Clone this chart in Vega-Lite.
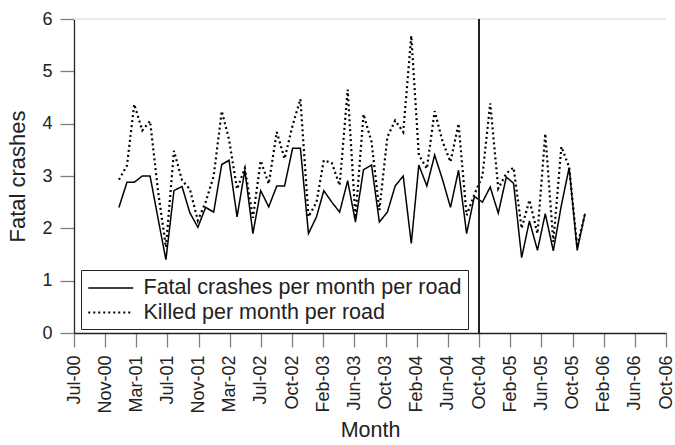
{
  "$schema": "https://vega.github.io/schema/vega-lite/v6.json",
  "width": 592,
  "height": 314,
  "autosize": "none",
  "padding": {"left": 74, "top": 19, "right": 9, "bottom": 112},
  "background": "white",
  "config": {"view": {"stroke": null}, "font": "Liberation Sans"},
  "data": {
    "values": [
      {"month": "2001-01-01", "crashes": 2.40, "killed": 2.93},
      {"month": "2001-02-01", "crashes": 2.88, "killed": 3.20},
      {"month": "2001-03-01", "crashes": 2.88, "killed": 4.37},
      {"month": "2001-04-01", "crashes": 3.00, "killed": 3.87},
      {"month": "2001-05-01", "crashes": 3.00, "killed": 4.05},
      {"month": "2001-06-01", "crashes": 2.18, "killed": 2.70},
      {"month": "2001-07-01", "crashes": 1.40, "killed": 1.64},
      {"month": "2001-08-01", "crashes": 2.72, "killed": 3.48},
      {"month": "2001-09-01", "crashes": 2.80, "killed": 2.92},
      {"month": "2001-10-01", "crashes": 2.30, "killed": 2.75},
      {"month": "2001-11-01", "crashes": 2.02, "killed": 2.15},
      {"month": "2001-12-01", "crashes": 2.40, "killed": 2.50},
      {"month": "2002-01-01", "crashes": 2.31, "killed": 3.00},
      {"month": "2002-02-01", "crashes": 3.22, "killed": 4.24},
      {"month": "2002-03-01", "crashes": 3.30, "killed": 3.70},
      {"month": "2002-04-01", "crashes": 2.22, "killed": 2.75},
      {"month": "2002-05-01", "crashes": 3.11, "killed": 3.15},
      {"month": "2002-06-01", "crashes": 1.90, "killed": 2.20},
      {"month": "2002-07-01", "crashes": 2.72, "killed": 3.29},
      {"month": "2002-08-01", "crashes": 2.41, "killed": 2.85},
      {"month": "2002-09-01", "crashes": 2.81, "killed": 3.84},
      {"month": "2002-10-01", "crashes": 2.81, "killed": 3.33},
      {"month": "2002-11-01", "crashes": 3.53, "killed": 3.97},
      {"month": "2002-12-01", "crashes": 3.53, "killed": 4.47},
      {"month": "2003-01-01", "crashes": 1.90, "killed": 2.22},
      {"month": "2003-02-01", "crashes": 2.22, "killed": 2.50},
      {"month": "2003-03-01", "crashes": 2.72, "killed": 3.30},
      {"month": "2003-04-01", "crashes": 2.50, "killed": 3.25},
      {"month": "2003-05-01", "crashes": 2.31, "killed": 2.82},
      {"month": "2003-06-01", "crashes": 2.91, "killed": 4.65},
      {"month": "2003-07-01", "crashes": 2.12, "killed": 2.20},
      {"month": "2003-08-01", "crashes": 3.12, "killed": 4.18},
      {"month": "2003-09-01", "crashes": 3.21, "killed": 3.65},
      {"month": "2003-10-01", "crashes": 2.12, "killed": 2.35},
      {"month": "2003-11-01", "crashes": 2.31, "killed": 3.75},
      {"month": "2003-12-01", "crashes": 2.81, "killed": 4.06},
      {"month": "2004-01-01", "crashes": 3.00, "killed": 3.84},
      {"month": "2004-02-01", "crashes": 1.71, "killed": 5.68},
      {"month": "2004-03-01", "crashes": 3.21, "killed": 3.40},
      {"month": "2004-04-01", "crashes": 2.81, "killed": 3.14},
      {"month": "2004-05-01", "crashes": 3.40, "killed": 4.24},
      {"month": "2004-06-01", "crashes": 2.92, "killed": 3.65},
      {"month": "2004-07-01", "crashes": 2.40, "killed": 3.27},
      {"month": "2004-08-01", "crashes": 3.11, "killed": 4.00},
      {"month": "2004-09-01", "crashes": 1.90, "killed": 2.25},
      {"month": "2004-10-01", "crashes": 2.61, "killed": 2.65},
      {"month": "2004-11-01", "crashes": 2.50, "killed": 3.00},
      {"month": "2004-12-01", "crashes": 2.79, "killed": 4.39},
      {"month": "2005-01-01", "crashes": 2.29, "killed": 2.76},
      {"month": "2005-02-01", "crashes": 2.98, "killed": 3.05},
      {"month": "2005-03-01", "crashes": 2.86, "killed": 3.16},
      {"month": "2005-04-01", "crashes": 1.44, "killed": 2.00},
      {"month": "2005-05-01", "crashes": 2.14, "killed": 2.54},
      {"month": "2005-06-01", "crashes": 1.58, "killed": 1.90},
      {"month": "2005-07-01", "crashes": 2.28, "killed": 3.81},
      {"month": "2005-08-01", "crashes": 1.57, "killed": 1.74},
      {"month": "2005-09-01", "crashes": 2.44, "killed": 3.56},
      {"month": "2005-10-01", "crashes": 3.16, "killed": 3.17},
      {"month": "2005-11-01", "crashes": 1.58, "killed": 1.65},
      {"month": "2005-12-01", "crashes": 2.28, "killed": 2.28}
    ]
  },
  "layer": [
    {
      "transform": [{"fold": ["crashes", "killed"], "as": ["series", "value"]}],
      "mark": {"type": "line", "color": "black", "strokeCap": "butt"},
      "encoding": {
        "x": {
          "field": "month",
          "type": "temporal",
          "scale": {
            "type": "utc",
            "domain": [
              {"year": 2000, "month": 7, "date": 12, "utc": true},
              {"year": 2006, "month": 10, "date": 9, "utc": true}
            ]
          },
          "axis": {
            "title": "Month",
            "titleFont": "Liberation Sans",
            "titleFontSize": 21.5,
            "titleFontWeight": "normal",
            "titleColor": "#222222",
            "titlePadding": 6,
            "tickCount": 40,
            "values": [
              {"year": 2000, "month": 7, "date": 12, "utc": true},
              {"year": 2000, "month": 11, "date": 9, "utc": true},
              {"year": 2001, "month": 3, "date": 9, "utc": true},
              {"year": 2001, "month": 7, "date": 7, "utc": true},
              {"year": 2001, "month": 11, "date": 4, "utc": true},
              {"year": 2002, "month": 3, "date": 4, "utc": true},
              {"year": 2002, "month": 7, "date": 2, "utc": true},
              {"year": 2002, "month": 10, "date": 30, "utc": true},
              {"year": 2003, "month": 2, "date": 27, "utc": true},
              {"year": 2003, "month": 6, "date": 27, "utc": true},
              {"year": 2003, "month": 10, "date": 25, "utc": true},
              {"year": 2004, "month": 2, "date": 22, "utc": true},
              {"year": 2004, "month": 6, "date": 21, "utc": true},
              {"year": 2004, "month": 10, "date": 19, "utc": true},
              {"year": 2005, "month": 2, "date": 16, "utc": true},
              {"year": 2005, "month": 6, "date": 16, "utc": true},
              {"year": 2005, "month": 10, "date": 14, "utc": true},
              {"year": 2006, "month": 2, "date": 11, "utc": true},
              {"year": 2006, "month": 6, "date": 11, "utc": true},
              {"year": 2006, "month": 10, "date": 9, "utc": true}
            ],
            "format": "%b-%y",
            "labelAngle": 270,
            "labelFont": "Liberation Sans",
            "labelFontSize": 18,
            "labelColor": "#222222",
            "labelPadding": 8,
            "labelOverlap": false,
            "labelFlush": false,
            "tickSize": 14,
            "tickColor": "#808080",
            "tickWidth": 1.3,
            "domainColor": "#222222",
            "domainWidth": 1.3,
            "grid": false
          }
        },
        "y": {
          "field": "value",
          "type": "quantitative",
          "scale": {"domain": [0, 6], "nice": false},
          "axis": {
            "title": "Fatal crashes",
            "titleFont": "Liberation Sans",
            "titleFontSize": 22,
            "titleFontWeight": "normal",
            "titleColor": "#222222",
            "titlePadding": 12,
            "values": [0, 1, 2, 3, 4, 5, 6],
            "labelFont": "Liberation Sans",
            "labelFontSize": 18,
            "labelColor": "#222222",
            "labelPadding": 8,
            "tickSize": 14,
            "tickColor": "#808080",
            "tickWidth": 1.3,
            "domainColor": "#222222",
            "domainWidth": 1.3,
            "grid": false
          }
        },
        "strokeDash": {
          "field": "series",
          "type": "nominal",
          "scale": {"domain": ["crashes", "killed"], "range": [[1, 0], [2, 3]]},
          "legend": {
            "orient": "none",
            "legendX": 7,
            "legendY": 251,
            "title": null,
            "labelExpr": "datum.label == 'crashes' ? 'Fatal crashes per month per road' : 'Killed per month per road'",
            "labelFont": "Liberation Sans",
            "labelFontSize": 21.5,
            "labelColor": "#222222",
            "labelLimit": 0,
            "labelOffset": 31.5,
            "symbolType": "M-1,0H3",
            "symbolSize": 506,
            "symbolStrokeWidth": 1.8,
            "symbolStrokeColor": "black",
            "symbolFillColor": "transparent",
            "strokeColor": "#222222",
            "fillColor": "white",
            "padding": 6,
            "rowPadding": 1
          }
        },
        "strokeWidth": {
          "field": "series",
          "type": "nominal",
          "scale": {"domain": ["crashes", "killed"], "range": [1.5, 2.2]},
          "legend": null
        }
      }
    },
    {
      "mark": {"type": "rule", "color": "#e8e8e8", "strokeWidth": 1},
      "encoding": {"y": {"datum": 6}}
    },
    {
      "mark": {"type": "rule", "color": "#222222", "strokeWidth": 1.5},
      "encoding": {
        "x": {"datum": {"year": 2004, "month": 10, "date": 19, "utc": true}, "type": "temporal"}
      }
    }
  ]
}
